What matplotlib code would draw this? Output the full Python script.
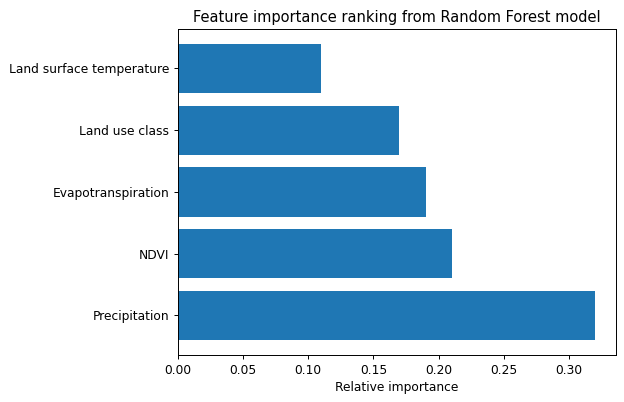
import matplotlib.pyplot as plt

# Feature importances
features = ['Precipitation', 'NDVI', 'Evapotranspiration', 'Land use class',
            'Land surface temperature']
importance = [0.32, 0.21, 0.19, 0.17, 0.11]

# the reference looks like a 100-dpi figure scaled down, so draw at 88 dpi
dpi = 88
fig, ax = plt.subplots(figsize=(624 / dpi, 402 / dpi), dpi=dpi)
ax.barh(features, importance, color='#1f77b4')
ax.set_xlabel('Relative importance')
ax.set_title('Feature importance ranking from Random Forest model')

fig.subplots_adjust(left=0.285, right=0.987, top=0.928, bottom=0.117)
fig.savefig('out.png', dpi=dpi)
